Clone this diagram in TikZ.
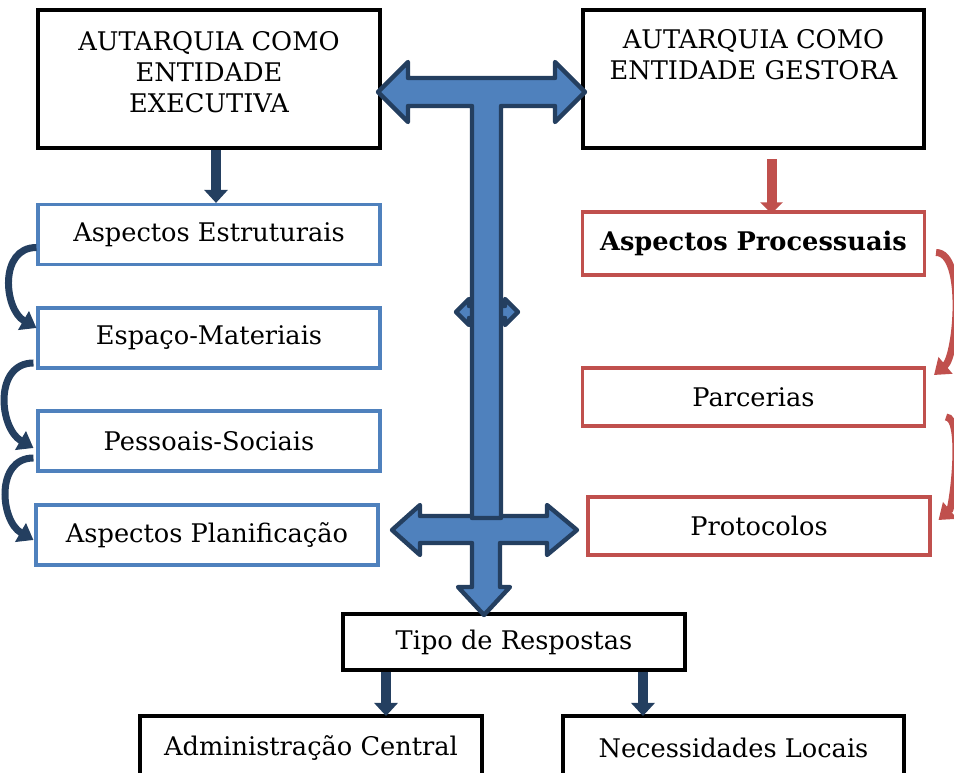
\documentclass[tikz,border=0pt]{standalone}
\usepackage{fontspec}
\setmainfont{DejaVu Serif}
\usetikzlibrary{arrows.meta}
\definecolor{boxblue}{HTML}{4F81BD}
\definecolor{navy}{HTML}{243F60}
\definecolor{boxred}{HTML}{C0504D}

\begin{document}
\begin{tikzpicture}[x=0.02cm,y=-0.02cm,
  txt/.style={font=\fontsize{14.6}{17.6}\selectfont,align=center},
  bigbox/.style={draw,line width=2.3pt,minimum width=6.84cm,minimum height=2.76cm},
  bluebox/.style={txt,draw=boxblue,line width=1.8pt,minimum width=6.84cm,minimum height=1.2cm},
  redbox/.style={txt,draw=boxred,line width=1.8pt,minimum width=6.84cm,minimum height=1.16cm},
  blackbox/.style={txt,draw,line width=2.3pt,minimum width=6.84cm,minimum height=1.12cm},
  darrow/.style={navy,line width=0.2cm,-{Triangle[width=0.46cm,length=0.26cm]}},
  rarrow/.style={boxred,line width=0.2cm,-{Triangle[width=0.44cm,length=0.22cm]}},
  curvarrow/.style={navy,line width=0.14cm,-{Triangle[width=0.42cm,length=0.3cm]}},
  redcurv/.style={boxred,line width=0.14cm,-{Triangle[width=0.42cm,length=0.3cm]}},
  bigarrow/.style={fill=boxblue,draw=navy,line width=2.5pt,line join=round}]
  \useasboundingbox (0,0) rectangle (954,773);

  % caixas de cima
  \node[bigbox] (exec) at (209,79) {};
  \node[txt] (execT) at (209,72) {AUTARQUIA COMO\\ENTIDADE\\EXECUTIVA};
  \node[bigbox] (gest) at (753.5,79) {};
  \node[txt] (gestT) at (753.5,55) {AUTARQUIA COMO\\ENTIDADE GESTORA};

  % lado esquerdo
  \node[bluebox] (est) at (209,234.5) {Aspectos Estruturais};
  \node[bluebox] (esp) at (209,338) {Espaço-Materiais};
  \node[bluebox] (pes) at (209,441) {Pessoais-Sociais};
  \node[bluebox] (plan) at (207,535) {Aspectos Planificação};

  % lado direito
  \node[redbox,minimum height=1.26cm] (proc) at (753.5,243.5) {\bfseries Aspectos Processuais};
  \node[redbox] (parc) at (753.5,397) {Parcerias};
  \node[redbox] (prot) at (759,526) {Protocolos};

  % baixo
  \node[blackbox] (tipo) at (514,642) {Tipo de Respostas};
  \node[blackbox,minimum height=1.28cm] (admin) at (311,748) {Administração Central};
  \node[blackbox,minimum height=1.28cm] (nec) at (733.5,748) {Necessidades Locais};

  % seta grande
  \draw[bigarrow] (392,530) -- (420,505) -- (420,516) -- (547,516) -- (547,505) -- (577,530)
    -- (547,555) -- (547,543) -- (500,543) -- (500,587) -- (510,587) -- (484,615)
    -- (458,587) -- (472,587) -- (472,543) -- (420,543) -- (420,555) -- cycle;
  \draw[bigarrow] (456,312) -- (469,299) -- (469,306) -- (505,306) -- (505,299) -- (518,312)
    -- (505,325) -- (505,318) -- (469,318) -- (469,325) -- cycle;
  \draw[bigarrow] (378,92) -- (408,62) -- (408,78) -- (555,78) -- (555,62) -- (585,92)
    -- (555,122) -- (555,106) -- (501,106) -- (501,518) -- (472,518) -- (472,106)
    -- (408,106) -- (408,122) -- cycle;

  % setas simples
  \draw[darrow] ([xshift=0.14cm]exec.south) -- ([xshift=0.14cm]est.north);
  \draw[rarrow,shorten <=0.18cm] ([xshift=0.36cm]gest.south) -- ([xshift=0.36cm,yshift=-0.06cm]proc.north);
  \draw[darrow] ([xshift=-2.56cm]tipo.south) -- ([xshift=-2.56cm,yshift=-0.04cm]tipo.south |- admin.north);
  \draw[darrow] ([xshift=2.58cm]tipo.south) -- ([xshift=2.58cm,yshift=-0.04cm]tipo.south |- nec.north);

  % setas curvas
  \draw[curvarrow] ([yshift=-0.26cm]est.west) to[out=180,in=150,looseness=1.2] ([yshift=0.2cm]esp.west);
  \draw[curvarrow] ([xshift=-0.06cm,yshift=-0.5cm]esp.west) to[out=180,in=150,looseness=1.2] ([xshift=-0.06cm,yshift=-0.14cm]pes.west);
  \draw[curvarrow] ([xshift=-0.06cm,yshift=-0.34cm]pes.west) to[out=180,in=150,looseness=1.2] ([xshift=-0.02cm,yshift=-0.1cm]plan.west);
  \draw[redcurv] ([xshift=0.2cm,yshift=-0.18cm]proc.east) to[out=0,in=40,looseness=0.62] ([xshift=0.16cm,yshift=0.44cm]parc.east);
  \draw[redcurv] ([xshift=0.4cm,yshift=-0.4cm]parc.east) to[out=0,in=40,looseness=0.45] ([xshift=0.14cm,yshift=0.12cm]prot.east);
\end{tikzpicture}
\end{document}
